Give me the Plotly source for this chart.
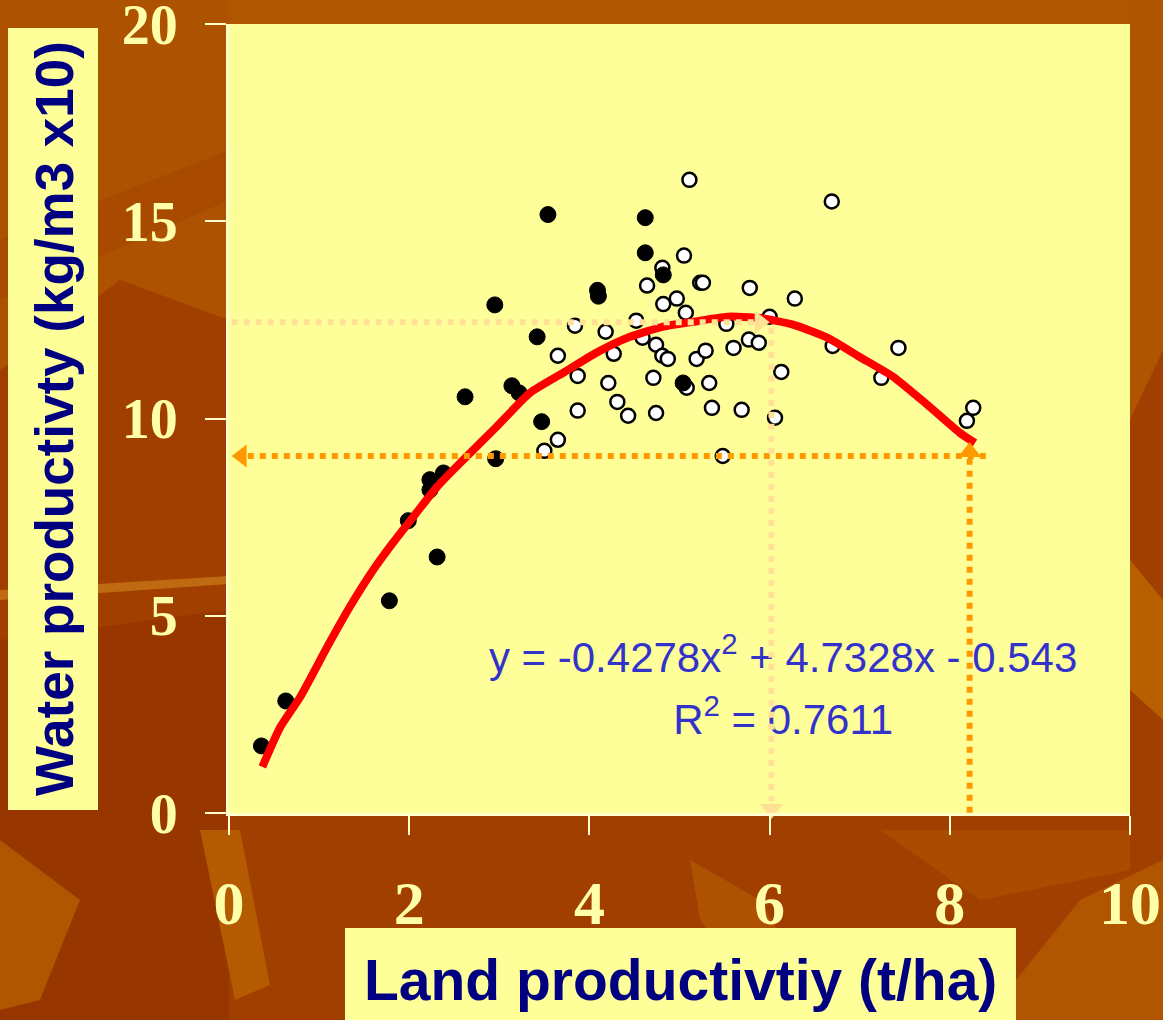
import plotly.graph_objects as go

# ---------------- data ----------------
filled_x = [0.36, 0.63, 1.78, 1.99, 2.23, 2.23, 2.38, 2.31, 2.62, 2.95, 2.96, 3.14, 3.22,
            3.42, 3.47, 3.54, 4.09, 4.10, 4.62, 4.62, 4.82, 5.04]
filled_y = [1.70, 2.84, 5.38, 7.41, 8.45, 8.19, 8.62, 6.49, 10.55, 12.88, 8.98, 10.83, 10.65,
            12.07, 9.92, 15.17, 13.25, 13.10, 15.09, 14.20, 13.64, 10.90]

open_x = [3.50, 3.65, 3.65, 3.84, 3.87, 3.87, 4.18, 4.21, 4.27, 4.31, 4.43, 4.52, 4.59,
          4.64, 4.71, 4.74, 4.74, 4.81, 4.81, 4.87, 4.82, 4.97, 5.05, 5.07, 5.08, 5.11,
          5.19, 5.23, 5.26, 5.29, 5.33, 5.36, 5.48, 5.52, 5.60, 5.69, 5.77, 5.78, 5.88,
          6.00, 6.06, 6.13, 6.28, 6.69, 6.70, 7.24, 7.43, 8.19, 8.26]
open_y = [9.18, 9.46, 11.59, 12.35, 11.08, 10.20, 12.20, 10.90, 11.64, 10.42, 10.07, 12.48, 12.05,
          13.37, 11.03, 11.87, 10.14, 13.82, 11.59, 11.51, 12.90, 13.04, 14.13, 12.68, 10.78, 16.05,
          11.51, 13.44, 13.44, 11.72, 10.90, 10.27, 9.05, 12.40, 11.79, 10.22, 12.00, 13.31, 11.92,
          12.58, 10.02, 11.18, 13.04, 15.50, 11.84, 11.03, 11.79, 9.94, 10.27]

trend_x = [0.37, 0.57, 0.79, 1.09, 1.34, 1.60, 1.82, 2.08, 2.31, 2.60, 2.97, 3.34, 3.71,
           4.08, 4.45, 4.82, 5.15, 5.53, 5.89, 6.26, 6.64, 7.00, 7.37, 7.75, 8.11, 8.28]
trend_y = [1.17, 2.18, 2.94, 4.21, 5.22, 6.16, 6.85, 7.61, 8.27, 8.95, 9.79, 10.65, 11.16,
           11.67, 12.07, 12.33, 12.45, 12.58, 12.55, 12.38, 12.05, 11.56, 11.06, 10.35, 9.64, 9.38]

# guide lines
orange_h_x = [8.40, 0.20]
orange_h_y = [9.05, 9.05]
orange_v_x = [8.22, 8.22]
orange_v_y = [-0.3, 9.0]
orange_arrow_x = [0.14, 8.22]
orange_arrow_y = [9.05, 9.15]

cream_h_x = [0.03, 5.85]
cream_h_y = [12.44, 12.44]
cream_v_x = [6.02, 6.02]
cream_v_y = [12.30, 0.3]
cream_arrow_x = [5.89, 6.02]
cream_arrow_y = [12.44, 0.10]

equation_lines = ["y = -0.4278x<sup>2</sup> + 4.7328x - 0.543", "R<sup>2</sup> = 0.7611"]
equation_x = [6.15, 6.15]
equation_y = [3.85, 2.28]

x_ticks = [0, 2, 4, 6, 8, 10]
y_ticks = [0, 5, 10, 15, 20]
x_title = "Land productivtiy (t/ha)"
y_title = "Water productivty (kg/m3 x10)"

# ---------------- styling ----------------
W, H = 1163, 1020
L, R, T, B = 229, 33, 24, 207
PW, PH = W - L - R, H - T - B


def px(xp):
    return (xp - L) / PW


def py(yp):
    return (H - B - yp) / PH


def poly(points, color):
    d = "M " + " L ".join(f"{px(a):.4f},{py(b):.4f}" for a, b in points) + " Z"
    return dict(type="path", xref="paper", yref="paper", path=d, fillcolor=color,
                line=dict(width=0), layer="below")


CREAM = "#FFE196"
ORANGE = "#FF9900"
YELLOW = "#FFFF99"

fig = go.Figure()

fig.add_trace(go.Scatter(x=open_x, y=open_y, mode="markers",
                         marker=dict(size=14, color="white", line=dict(color="black", width=2.5)),
                         cliponaxis=False, showlegend=False))
fig.add_trace(go.Scatter(x=filled_x, y=filled_y, mode="markers",
                         marker=dict(size=16, color="black", line=dict(color="black", width=1)),
                         cliponaxis=False, showlegend=False))
fig.add_trace(go.Scatter(x=trend_x, y=trend_y, mode="lines",
                         line=dict(color="#FF0000", width=8, shape="spline", smoothing=0.6),
                         showlegend=False))
fig.add_trace(go.Scatter(x=equation_x, y=equation_y, mode="text", text=equation_lines,
                         textposition="middle center",
                         textfont=dict(family="Liberation Sans, Arial", size=42, color="#3333CC"),
                         showlegend=False))
for gx, gy, col in [(orange_h_x, orange_h_y, ORANGE), (orange_v_x, orange_v_y, ORANGE),
                    (cream_h_x, cream_h_y, CREAM), (cream_v_x, cream_v_y, CREAM)]:
    fig.add_trace(go.Scatter(x=gx, y=gy, mode="lines",
                             line=dict(color=col, width=6, dash="6px,6px"), showlegend=False))
fig.add_trace(go.Scatter(x=orange_arrow_x, y=orange_arrow_y, mode="markers",
                         marker=dict(symbol=["triangle-left", "triangle-up"], size=20, color=ORANGE),
                         cliponaxis=False, showlegend=False))
fig.add_trace(go.Scatter(x=cream_arrow_x, y=cream_arrow_y, mode="markers",
                         marker=dict(symbol=["triangle-right", "triangle-down"], size=20, color=CREAM),
                         cliponaxis=False, showlegend=False))

shapes = [
    poly([(0, 0), (1163, 0), (1163, 130), (950, 70), (650, 100), (330, 40), (0, 190)], "#B05500"),
    poly([(0, 0), (229, 0), (229, 320), (120, 280), (0, 370)], "#AD5200"),
    poly([(0, 240), (229, 150), (229, 200), (0, 300)], "#A84A00"),
    poly([(0, 590), (229, 576), (229, 584), (0, 600)], "#BF6A10"),
    poly([(0, 640), (229, 610), (229, 1020), (0, 1020)], "#983600"),
    poly([(200, 830), (240, 830), (270, 985), (235, 1000)], "#B45A00"),
    poly([(0, 840), (80, 900), (40, 1000), (0, 1010)], "#B05500"),
    poly([(690, 860), (760, 900), (830, 1020), (780, 1020), (700, 920)], "#AD5200"),
    poly([(1016, 980), (1080, 900), (1163, 860), (1163, 1020), (1016, 1020)], "#B05500"),
    poly([(1130, 0), (1163, 0), (1163, 350), (1130, 420)], "#AF5400"),
    poly([(1130, 560), (1163, 600), (1163, 720), (1130, 690)], "#B86000"),
    poly([(880, 830), (1130, 830), (1130, 870), (980, 900)], "#A94C00"),
    dict(type="rect", xref="x", yref="y", x0=0, x1=10, y0=0, y1=20,
         fillcolor=YELLOW, line=dict(width=0), layer="below"),
    dict(type="rect", xref="paper", yref="paper", x0=px(8), x1=px(98), y0=py(810), y1=py(28),
         fillcolor=YELLOW, line=dict(width=0), layer="below"),
    dict(type="rect", xref="paper", yref="paper", x0=px(345), x1=px(1016), y0=py(1025), y1=py(928),
         fillcolor=YELLOW, line=dict(width=0), layer="below"),
]

annotations = [
    dict(text=f"<b>{y_title}</b>", xref="paper", yref="paper", x=px(54), y=py(419),
         textangle=-90, showarrow=False, xanchor="center", yanchor="middle",
         font=dict(family="Liberation Sans, Arial", size=53, color="#000080")),
    dict(text=f"<b>{x_title}</b>", xref="paper", yref="paper", x=px(680), y=py(980),
         showarrow=False, xanchor="center", yanchor="middle",
         font=dict(family="Liberation Sans, Arial", size=57, color="#000080")),
]

axis_common = dict(showgrid=False, zeroline=False, showline=True, linecolor="#FFFFCC", linewidth=3,
                   ticks="outside", tickcolor="#FFFFCC", tickwidth=2, fixedrange=True,
                   ticklabeloverflow="allow")

fig.update_layout(
    width=W, height=H, margin=dict(l=L, r=R, t=T, b=B, autoexpand=False),
    paper_bgcolor="#A13F00", plot_bgcolor="rgba(0,0,0,0)",
    shapes=shapes, annotations=annotations, showlegend=False,
    xaxis=dict(range=[0, 10], tickvals=x_ticks, ticklen=19, ticklabelstandoff=15,
               tickfont=dict(family="Liberation Serif, Times New Roman", size=62, color="#FFFFAA",
                             weight="bold"), **axis_common),
    yaxis=dict(range=[0, 20], tickvals=y_ticks, ticklen=21, ticklabelstandoff=16,
               tickfont=dict(family="Liberation Serif, Times New Roman", size=56, color="#FFFFAA",
                             weight="bold"), **axis_common),
)

fig.write_html("out.html", config={"displayModeBar": False},
               post_script="document.body.style.margin='0';")
